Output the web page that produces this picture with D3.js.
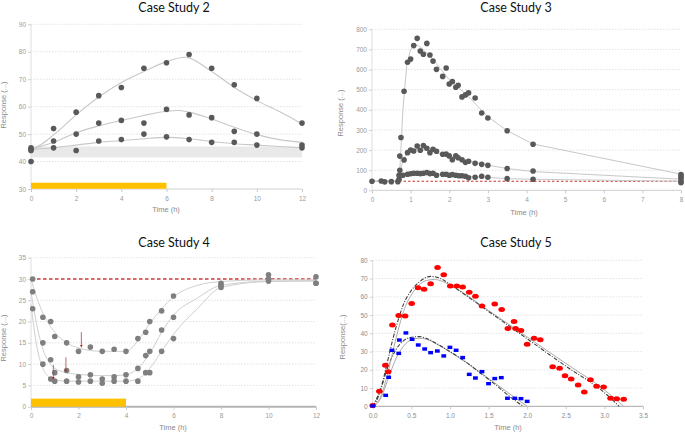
<!DOCTYPE html>
<html><head><meta charset="utf-8">
<script src="https://cdn.jsdelivr.net/npm/d3@7/dist/d3.min.js"></script>
<style>body{margin:0;background:#fff}svg{display:block}</style>
</head><body><svg id="c" width="685" height="433"></svg>
<script>
// ---------- Case Study 2 ----------
const cs2Hours = [0,1,2,3,4,5,6,7,8,9,10,12];
const cs2High = [45,52,58,64,67,74,76,79,74,68,63,54];
const cs2Mid  = [44.5,47.5,50,54,55,54,59,57,56,51,50,46];
const cs2Low  = [44,45,44,47.5,48,50,49,48,47,47,46,45];
const cs2Extra = [[0,40]];
const cs2FitHigh = [[0,44.5],[0.5,46.5],[1,49.7],[2,57],[3,63.5],[4,68.8],[5,72.8],[6,76.4],[6.8,78],[8,72.8],[9,67],[10,62.2],[11,58.2],[12,53.7]];
const cs2FitMid  = [[0,44.5],[1,47],[2,50.5],[3,53],[4,55],[5,56.8],[6,58.3],[6.5,58.6],[7,58],[8,55.5],[9,52.5],[10,49.8],[11,48],[12,47]];
const cs2FitLow  = [[0,44.3],[1,45],[2,46],[3,47],[4,47.6],[5,48.3],[6,48.8],[7,48.3],[8,47.3],[9,46.5],[10,46],[11,45.5],[12,45]];
const cs2Band = [41.5,45.5];
const cs2Dosing = [0,6];
const cs2XTicks = [0,2,4,6,8,10,12];
const cs2YTicks = [30,40,50,60,70,80,90];

// ---------- Case Study 3 ----------
const cs3High = [[0.75,262],[0.83,492],[0.92,636],[1.0,652],[1.08,719],[1.17,755],[1.25,692],[1.33,676],[1.42,730],[1.5,672],[1.58,642],[1.67,601],[1.83,566],[1.92,608],[2.0,528],[2.08,540],[2.17,512],[2.23,522],[2.33,464],[2.42,474],[2.5,484],[2.67,459],[2.84,384],[3.0,359],[3.5,296],[4.17,229],[8,78]];
const cs3Mid = [[0.72,170],[0.83,151],[0.92,187],[1.0,200],[1.08,195],[1.17,220],[1.25,199],[1.33,222],[1.42,209],[1.5,187],[1.58,204],[1.67,194],[1.83,179],[1.92,180],[2.0,171],[2.08,152],[2.17,171],[2.23,162],[2.33,152],[2.42,139],[2.5,144],[2.67,134],[2.84,129],[3.0,124],[3.5,108],[4.17,96],[8,60]];
const cs3Low = [[0.72,100],[0.8,75],[0.92,80],[1.0,82],[1.08,85],[1.17,85],[1.25,83],[1.33,85],[1.42,88],[1.5,83],[1.58,85],[1.67,75],[1.83,80],[1.92,80],[2.0,75],[2.08,78],[2.17,75],[2.25,72],[2.33,72],[2.42,70],[2.5,62],[2.67,65],[2.84,70],[3.0,65],[3.5,58],[4.17,55],[8,45]];
const cs3Base = [[0,45],[0.24,46],[0.33,42],[0.5,43],[0.67,43],[0.7,55],[0.7,75],[8,68],[8,38]];
const cs3FitHigh = [[0,45],[0.67,45],[0.72,100],[0.8,400],[0.9,620],[1.0,700],[1.1,722],[1.2,720],[1.5,668],[2.0,550],[2.5,465],[3.0,365],[3.5,296],[4.17,230],[8,80]];
const cs3FitMid = [[0,45],[0.67,45],[0.72,80],[0.8,150],[0.9,185],[1.0,200],[1.2,205],[1.5,195],[2.0,172],[2.5,145],[3.0,125],[3.5,108],[4.17,93],[8,55]];
const cs3FitLow = [[0,45],[0.67,45],[0.72,60],[0.8,75],[1.0,82],[1.2,85],[1.5,83],[2.0,78],[2.5,70],[3.0,64],[3.5,58],[4.17,55],[8,45]];
const cs3Baseline = 45;
const cs3XTicks = [0,1,2,3,4,5,6,7,8];
const cs3YTicks = [0,100,200,300,400,500,600,700,800];

// ---------- Case Study 4 ----------
const cs4Hours = [0.07,0.5,0.83,1,1.5,2,2.5,3,3.5,4,4.5,4.83,5,5.5,6,8,10,12];
const cs4High = [30,21,20,16.5,15,13,14,13,13.5,13,16,17.5,20,22.5,26,29,31,30.5];
const cs4Mid  = [27,15,11,8,8.5,7,7.5,6.5,7,7.5,9,12,13,18,21,28.5,30,29];
const cs4Low  = [23,10,6.5,6,6,5.8,6,5.5,6,6,6,8,8,13,16,28,29.5,29];
const cs4FitHigh = [[0,30],[0.25,25.5],[0.5,22],[1,17.5],[1.5,15],[2,13.8],[2.5,13.2],[3,13],[3.5,13],[4,13],[4.5,15.5],[5,19.5],[5.5,23],[6,25.8],[7,28.5],[8,29.4],[10,29.8],[12,29.8]];
const cs4FitMid  = [[0,27],[0.25,19],[0.5,13.5],[0.75,10.5],[1,9],[1.5,8],[2,7.6],[2.5,7.4],[3,7.3],[3.5,7.3],[4,7.5],[4.5,9],[5,12.5],[5.5,17.5],[6,21.5],[7,25.5],[8,28.5],[10,29.5],[12,29.6]];
const cs4FitLow  = [[0,24],[0.25,14],[0.5,9],[0.75,7],[1,6.3],[1.5,6],[2,6],[3,6],[4,6],[4.5,6.5],[5,9],[5.5,13],[6,17],[7,23],[8,28],[10,29.4],[12,29.5]];
const cs4Arrows = [[2.12,17.5,13.9],[1.47,11.6,8.1],[0.94,9.8,6.4]];
const cs4Target = 30;
const cs4Dosing = [0,4];
const cs4XTicks = [0,2,4,6,8,10,12];
const cs4YTicks = [0,5,10,15,20,25,30,35];

// ---------- Case Study 5 ----------
const cs5Red = [[0,0.4],[0.086,8.2],[0.164,22.5],[0.2,19],[0.255,44.6],[0.337,49.7],[0.42,49.5],[0.505,56.3],[0.587,65],[0.665,64.1],[0.75,67.2],[0.84,76],[0.92,72.1],[1.005,65.9],[1.09,65.9],[1.165,65.4],[1.25,62.5],[1.33,60.3],[1.415,55],[1.58,56.1],[1.67,53],[1.75,42.6],[1.83,46.4],[1.85,42.6],[1.92,41.6],[2.0,34],[2.09,37.3],[2.17,36.5],[2.33,21.7],[2.42,20.8],[2.49,16.8],[2.57,15],[2.66,11.7],[2.74,7.9],[2.82,14.6],[2.9,11],[2.99,10.6],[3.08,4.4],[3.16,4.2],[3.25,3.8]];
const cs5Blue = [[0,0.2],[0.168,6],[0.207,15.9],[0.25,30.7],[0.337,29],[0.345,36.3],[0.43,40.2],[0.51,36.7],[0.59,33.6],[0.673,31.4],[0.75,29.4],[0.837,30.3],[0.92,27.6],[1.0,32.3],[1.08,30.7],[1.165,26.7],[1.25,17.5],[1.33,15.5],[1.415,19],[1.5,12.4],[1.58,15.2],[1.665,15.7],[1.745,4.4],[1.84,4.4],[1.92,4.2],[2.0,2.7]];
const cs5RedFitDash = [[0,0],[0.05,3],[0.1,9],[0.15,17],[0.2,26],[0.25,35],[0.3,43],[0.35,50],[0.4,56],[0.5,63.5],[0.6,68],[0.7,70.8],[0.75,71.2],[0.8,71],[0.9,69.6],[1.0,66.8],[1.5,52],[2.0,37],[2.5,22],[3.0,7.5],[3.19,0]];
const cs5RedFitSolid = [[0,0],[0.05,1.5],[0.1,5],[0.15,11],[0.2,19],[0.25,28],[0.3,37],[0.35,45],[0.4,52],[0.5,61],[0.6,66.5],[0.7,69],[0.8,69.5],[0.9,68.5],[1.0,66.5],[1.5,52.5],[2.0,38],[2.5,23.5],[3.0,9],[3.25,0]];
const cs5BlueFitDash = [[0,0],[0.1,9],[0.2,22],[0.3,31],[0.4,36],[0.5,37.8],[0.6,38.2],[0.7,37.2],[0.8,35],[1.0,30],[1.2,24.5],[1.4,18],[1.6,11.5],[1.8,4.5],[1.95,0]];
const cs5BlueFitSolid = [[0,0],[0.1,4],[0.2,15],[0.3,26],[0.4,33],[0.5,36.5],[0.6,37.3],[0.7,36.7],[0.8,34.8],[1.0,29.8],[1.2,24.3],[1.4,18.3],[1.6,12.2],[1.8,6],[2.0,0]];
const cs5XTicks = [0,0.5,1,1.5,2,2.5,3,3.5];
const cs5YTicks = [0,10,20,30,40,50,60,70,80];

const titles = ["Case Study 2","Case Study 3","Case Study 4","Case Study 5"];
const xTitle = "Time (h)";
const yTitles = ["Response (...)","Response (...)","Response (...)","Response(...)"];

// ---------- drawing ----------
const svg = d3.select("#c");
const TICKCOL = "#9a9a9a";

function base(opt){
  const g = svg.append("g");
  const x = d3.scaleLinear().domain(opt.xd).range(opt.xr);
  const y = d3.scaleLinear().domain(opt.yd).range(opt.yr);
  const under = g.append("g");
  // grid
  g.append("g").selectAll("line").data(opt.yt.filter(v=>v!==opt.yd[0])).join("line")
    .attr("x1",opt.xr[0]).attr("x2",opt.gridEnd||opt.xr[1])
    .attr("y1",d=>y(d)).attr("y2",d=>y(d))
    .attr("stroke","#dcdcdc").attr("stroke-width",0.8).attr("stroke-dasharray","1.5,1.5");
  // y axis
  const ya = g.append("g").attr("transform",`translate(${opt.xr[0]},0)`)
    .call(d3.axisLeft(y).tickValues(opt.yt).tickSize(3).tickPadding(2).tickFormat(opt.yf||d3.format("d")));
  ya.select(".domain").attr("stroke","#dedede").attr("d",`M0,${opt.yr[0]}V${opt.yr[1]}`);
  ya.selectAll(".tick line").attr("stroke","#d0d0d0");
  ya.selectAll("text").attr("fill",opt.tc||TICKCOL).style("font-family","Liberation Sans, Arial, sans-serif").style("font-size","6.5px");
  // x axis
  const xa = g.append("g").attr("transform",`translate(0,${opt.yr[0]})`)
    .call(d3.axisBottom(x).tickValues(opt.xt).tickSize(3).tickPadding(4).tickFormat(opt.xf||d3.format("d")));
  xa.select(".domain").attr("stroke",opt.xc||"#cfcfcf").attr("stroke-width",opt.xw||1).attr("d",`M${opt.xr[0]},0H${opt.xr[1]}`);
  xa.selectAll(".tick line").attr("stroke","#c8c8c8");
  xa.selectAll("text").attr("fill",opt.tc||TICKCOL).style("font-family","Liberation Sans, Arial, sans-serif").style("font-size","6.5px");
  // titles
  g.append("text").attr("x",opt.tx).attr("y",opt.ty).attr("text-anchor","middle")
    .style("font-family","Lato, 'Open Sans', sans-serif").style("font-size","12.5px").attr("fill","#111").text(opt.title);
  g.append("text").attr("x",opt.xtx).attr("y",opt.xty).attr("text-anchor","middle")
    .style("font-family","Liberation Sans, Arial, sans-serif").style("font-size","7.5px").attr("fill","#8a8a8a").text(xTitle);
  g.append("text").attr("transform",`translate(${opt.ytx},${opt.yty}) rotate(-90)`).attr("text-anchor","middle")
    .style("font-family","Liberation Sans, Arial, sans-serif").style("font-size","7.5px").attr("fill","#8a8a8a").text(opt.ytitle);
  return {g,x,y,under};
}
function curve(p,data,stroke,w,dash,c){
  const line = d3.line().x(d=>p.x(d[0])).y(d=>p.y(d[1])).curve(c||d3.curveMonotoneX);
  p.g.append("path").datum(data).attr("d",line).attr("fill","none").attr("stroke",stroke)
    .attr("stroke-width",w).attr("stroke-dasharray",dash||null);
}
function dots(p,data,fill,r){
  p.g.append("g").selectAll("circle").data(data).join("circle")
    .attr("cx",d=>p.x(d[0])).attr("cy",d=>p.y(d[1])).attr("r",r).attr("fill",fill);
}
const zip = (xs,ys)=>xs.map((v,i)=>[v,ys[i]]);

// Panel CS2
{
  const p = base({xd:[0,12],xr:[31,302],yd:[30,90],yr:[189,24.3],xt:cs2XTicks,yt:cs2YTicks,
    title:titles[0],tx:174,ty:11.5,xtx:166,xty:212,ytx:6,yty:105,ytitle:yTitles[0]});
  p.under.append("rect").attr("x",p.x(0)).attr("width",p.x(12)-p.x(0))
    .attr("y",p.y(cs2Band[1])).attr("height",p.y(cs2Band[0])-p.y(cs2Band[1])).attr("fill","#e9e9e9");
  p.g.append("rect").attr("x",p.x(cs2Dosing[0])).attr("width",p.x(cs2Dosing[1])-p.x(cs2Dosing[0]))
    .attr("y",p.y(32.3)).attr("height",p.y(30.1)-p.y(32.3)).attr("fill","#FFC000").attr("rx",0.8);
  curve(p,cs2FitHigh,"#c8c8c8",1.1,null,d3.curveMonotoneX);
  curve(p,cs2FitMid,"#c8c8c8",1.1,null,d3.curveMonotoneX);
  curve(p,cs2FitLow,"#c8c8c8",1.1,null,d3.curveMonotoneX);
  dots(p,zip(cs2Hours,cs2High),"#595959",2.8);
  dots(p,zip(cs2Hours,cs2Mid),"#595959",2.8);
  dots(p,zip(cs2Hours,cs2Low),"#595959",2.8);
  dots(p,cs2Extra,"#595959",2.8);
}
// Panel CS3
{
  const p = base({xd:[0,8],xr:[372,681],yd:[0,800],yr:[190.3,29.3],xt:cs3XTicks,yt:cs3YTicks,
    title:titles[1],tx:516,ty:11.5,xtx:524,xty:215,ytx:343,yty:113,ytitle:yTitles[1]});
  p.g.append("line").attr("x1",p.x(0)).attr("x2",p.x(8)).attr("y1",p.y(cs3Baseline)).attr("y2",p.y(cs3Baseline))
    .attr("stroke","#c83232").attr("stroke-width",1).attr("stroke-dasharray","2.5,2");
  curve(p,cs3FitHigh,"#c8c8c8",1,null,d3.curveLinear);
  curve(p,cs3FitMid,"#c8c8c8",1,null,d3.curveLinear);
  curve(p,cs3FitLow,"#c8c8c8",1,null,d3.curveLinear);
  dots(p,cs3Base,"#595959",2.8);
  dots(p,cs3Low,"#595959",2.8);
  dots(p,cs3Mid,"#595959",2.8);
  dots(p,cs3High,"#595959",2.8);
}
// Panel CS4
{
  const p = base({xd:[0,12],xr:[31,316],yd:[0,35],yr:[406.7,257.7],xt:cs4XTicks,yt:cs4YTicks,
    title:titles[2],tx:174,ty:246.7,xtx:173,xty:430,ytx:6,yty:338,ytitle:yTitles[2],xc:"#b4b4b4",xw:2});
  p.g.append("rect").attr("x",p.x(cs4Dosing[0])).attr("width",p.x(cs4Dosing[1])-p.x(cs4Dosing[0]))
    .attr("y",p.y(1.9)).attr("height",p.y(0)-p.y(1.9)).attr("fill","#FFC000");
  p.g.append("line").attr("x1",p.x(0)).attr("x2",p.x(12)).attr("y1",p.y(cs4Target)).attr("y2",p.y(cs4Target))
    .attr("stroke","#d03a3a").attr("stroke-width",1.4).attr("stroke-dasharray","3.5,2.5");
  curve(p,cs4FitHigh,"#cfcfcf",1,null,d3.curveMonotoneX);
  curve(p,cs4FitMid,"#cfcfcf",1,null,d3.curveMonotoneX);
  curve(p,cs4FitLow,"#cfcfcf",1,null,d3.curveMonotoneX);
  dots(p,zip(cs4Hours,cs4High),"#7f7f7f",2.8);
  dots(p,zip(cs4Hours,cs4Mid),"#7f7f7f",2.8);
  dots(p,zip(cs4Hours,cs4Low),"#7f7f7f",2.8);
  const ag = p.g.append("g");
  cs4Arrows.forEach(a=>{
    ag.append("line").attr("x1",p.x(a[0])).attr("x2",p.x(a[0])).attr("y1",p.y(a[1])).attr("y2",p.y(a[2])-2)
      .attr("stroke","#b04040").attr("stroke-width",0.8);
    const xx=p.x(a[0]), yy=p.y(a[2]);
    ag.append("path").attr("d",`M${xx-1.3},${yy-2.5}L${xx+1.3},${yy-2.5}L${xx},${yy}Z`).attr("fill","#b02020");
  });
}
// Panel CS5
{
  const p = base({xd:[0,3.5],xr:[372.7,643],yd:[0,80],yr:[406.3,260.3],xt:cs5XTicks,yt:cs5YTicks,
    title:titles[3],tx:516,ty:246.7,xtx:508,xty:430,ytx:345,yty:337,ytitle:yTitles[3],
    xf:d3.format(".1f"),xc:"#a8a8a8",tc:"#8c8c8c"});
  curve(p,cs5BlueFitSolid,"#aaaaaa",1,null,d3.curveMonotoneX);
  curve(p,cs5BlueFitDash,"#3c3c3c",1.1,"4,1.5,1,1.5",d3.curveMonotoneX);
  curve(p,cs5RedFitSolid,"#aaaaaa",1,null,d3.curveMonotoneX);
  curve(p,cs5RedFitDash,"#3c3c3c",1.1,"4,1.5,1,1.5",d3.curveMonotoneX);
  p.g.append("g").selectAll("ellipse").data(cs5Red).join("ellipse")
    .attr("cx",d=>p.x(d[0])).attr("cy",d=>p.y(d[1])).attr("rx",3.3).attr("ry",2.5).attr("fill","#ff0000");
  p.g.append("g").selectAll("rect").data(cs5Blue).join("rect")
    .attr("x",d=>p.x(d[0])-2.4).attr("y",d=>p.y(d[1])-1.7).attr("width",4.8).attr("height",3.4).attr("fill","#0000ff");
}
</script></body></html>
